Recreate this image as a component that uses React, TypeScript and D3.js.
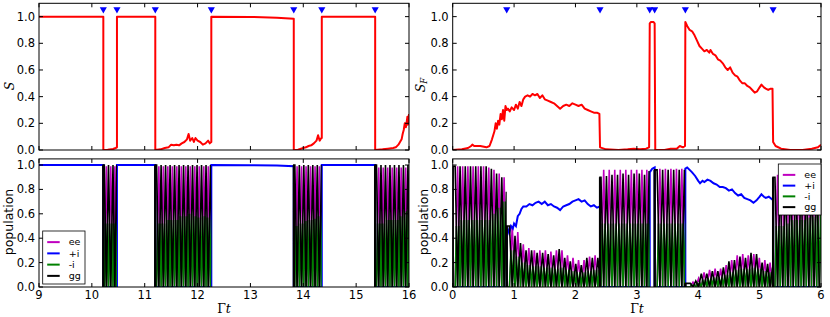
import * as d3 from 'd3';
import React from 'react';

type Pt = [number, number];

// jump times (blue markers)
const leftJumps = [10.217, 10.475, 11.2, 12.26, 13.82, 14.35, 15.36];
const rightJumps = [0.88, 2.4, 3.21, 3.29, 3.79, 5.22];

const leftXTicks = [9, 10, 11, 12, 13, 14, 15, 16];
const rightXTicks = [0, 1, 2, 3, 4, 5, 6];
const yTicks = [0, 0.2, 0.4, 0.6, 0.8, 1.0];
const legendLabels = ['ee', '+i', '-i', 'gg'];

const leftS: Pt[] = [
    [9, 1], [10.217, 1], [10.217, 0], [10.3, 0.002], [10.4, 0.008], [10.45, 0.015], [10.475, 0.02], [10.475, 1],
    [11.2, 1], [11.2, 0], [11.3, 0.005], [11.38, 0.015], [11.45, 0.02], [11.5, 0.04], [11.55, 0.035], [11.6, 0.04],
    [11.65, 0.035], [11.7, 0.05], [11.75, 0.06], [11.8, 0.08], [11.83, 0.12], [11.86, 0.07], [11.9, 0.09], [11.93, 0.06],
    [11.96, 0.09], [12.0, 0.07], [12.05, 0.06], [12.1, 0.04], [12.15, 0.05], [12.2, 0.07], [12.23, 0.05], [12.26, 0.06],
    [12.26, 1], [13.0, 0.998], [13.5, 0.992], [13.82, 0.985], [13.82, 0], [13.9, 0.002], [14.0, 0.015], [14.05, 0.02],
    [14.1, 0.03], [14.15, 0.035], [14.2, 0.05], [14.25, 0.07], [14.28, 0.11], [14.31, 0.07], [14.34, 0.09], [14.35, 0.09],
    [14.35, 1], [15.36, 1], [15.36, 0], [15.5, 0.005], [15.6, 0.01], [15.7, 0.015], [15.75, 0.02], [15.8, 0.04],
    [15.83, 0.06], [15.86, 0.08], [15.88, 0.12], [15.9, 0.15], [15.92, 0.2], [15.94, 0.17], [15.96, 0.22], [15.97, 0.25],
    [15.98, 0.19], [15.99, 0.22], [16, 0.27],
];

const rightSF: Pt[] = [
    [0, 0], [0.15, 0.005], [0.25, 0.015], [0.3, 0.03], [0.32, 0.04], [0.35, 0.03], [0.45, 0.03], [0.55, 0.02],
    [0.6, 0.03], [0.64, 0.08], [0.68, 0.14], [0.7, 0.2], [0.72, 0.16], [0.74, 0.22], [0.76, 0.19], [0.78, 0.27],
    [0.8, 0.23], [0.82, 0.3], [0.84, 0.22], [0.86, 0.33], [0.88, 0.3], [0.9, 0.31], [0.93, 0.29], [0.96, 0.32],
    [1.0, 0.3], [1.03, 0.34], [1.06, 0.31], [1.09, 0.36], [1.12, 0.33], [1.15, 0.38], [1.18, 0.4], [1.22, 0.41],
    [1.26, 0.4], [1.3, 0.42], [1.34, 0.41], [1.38, 0.42], [1.42, 0.39], [1.46, 0.41], [1.5, 0.38], [1.55, 0.37],
    [1.6, 0.36], [1.65, 0.35], [1.7, 0.33], [1.75, 0.31], [1.8, 0.33], [1.85, 0.34], [1.9, 0.33], [1.95, 0.35],
    [2.0, 0.34], [2.05, 0.33], [2.1, 0.34], [2.15, 0.31], [2.2, 0.3], [2.25, 0.29], [2.3, 0.28], [2.35, 0.28],
    [2.39, 0.27], [2.4, 0.02], [2.5, 0.005], [2.7, 0], [2.85, 0.005], [2.95, 0.01], [3.05, 0.005], [3.15, 0.01],
    [3.2, 0.02], [3.21, 0.95], [3.23, 0.96], [3.27, 0.96], [3.29, 0.95], [3.3, 0], [3.45, 0], [3.55, 0.01],
    [3.65, 0.01], [3.7, 0.03], [3.75, 0.02], [3.785, 0.03], [3.79, 0.96], [3.82, 0.93], [3.86, 0.9], [3.9, 0.89],
    [3.94, 0.86], [3.98, 0.82], [4.02, 0.78], [4.06, 0.76], [4.1, 0.74], [4.14, 0.75], [4.18, 0.73], [4.2, 0.75],
    [4.24, 0.72], [4.28, 0.71], [4.32, 0.68], [4.36, 0.67], [4.4, 0.65], [4.44, 0.62], [4.48, 0.6], [4.52, 0.62],
    [4.56, 0.58], [4.6, 0.56], [4.64, 0.55], [4.68, 0.52], [4.72, 0.5], [4.76, 0.5], [4.8, 0.48], [4.84, 0.47],
    [4.88, 0.45], [4.92, 0.43], [4.96, 0.44], [5.0, 0.47], [5.03, 0.49], [5.07, 0.47], [5.1, 0.46], [5.14, 0.45],
    [5.18, 0.46], [5.21, 0.46], [5.22, 0.06], [5.26, 0.03], [5.35, 0.01], [5.5, 0], [5.7, 0], [5.85, 0.01],
    [5.95, 0.02], [6, 0.04],
];

// +i population
const leftPlusI: Pt[] = [
    [9, 1], [10.217, 1], [10.217, 0], [10.475, 0], [10.475, 1], [11.2, 1], [11.2, 0], [12.26, 0], [12.26, 1],
    [13.0, 0.998], [13.5, 0.995], [13.82, 0.99], [13.82, 0], [14.35, 0], [14.35, 1], [15.36, 1], [15.36, 0], [16, 0],
];

const rightPlusI: Pt[] = [
    [0, 0], [0.88, 0], [0.88, 0.45], [0.9, 0.47], [0.92, 0.44], [0.95, 0.5], [0.98, 0.48], [1.0, 0.52], [1.03, 0.5],
    [1.06, 0.58], [1.09, 0.6], [1.12, 0.64], [1.15, 0.66], [1.2, 0.66], [1.25, 0.68], [1.3, 0.67], [1.35, 0.69],
    [1.4, 0.7], [1.45, 0.68], [1.5, 0.7], [1.55, 0.67], [1.6, 0.68], [1.65, 0.66], [1.7, 0.65], [1.75, 0.63],
    [1.8, 0.66], [1.85, 0.67], [1.9, 0.68], [1.95, 0.7], [2.0, 0.71], [2.05, 0.72], [2.1, 0.7], [2.15, 0.71],
    [2.2, 0.68], [2.25, 0.66], [2.3, 0.67], [2.35, 0.65], [2.4, 0.66], [2.4, 0], [3.21, 0], [3.21, 0.94],
    [3.25, 0.97], [3.29, 0.98], [3.29, 0], [3.79, 0], [3.79, 0.97], [3.82, 0.98], [3.86, 0.96], [3.9, 0.94],
    [3.95, 0.91], [4.0, 0.87], [4.03, 0.85], [4.07, 0.87], [4.1, 0.86], [4.15, 0.88], [4.2, 0.87], [4.25, 0.85],
    [4.3, 0.84], [4.35, 0.82], [4.4, 0.82], [4.45, 0.81], [4.5, 0.79], [4.55, 0.8], [4.6, 0.77], [4.65, 0.75],
    [4.7, 0.76], [4.75, 0.73], [4.8, 0.72], [4.85, 0.71], [4.9, 0.69], [4.95, 0.71], [5.0, 0.74], [5.03, 0.76],
    [5.07, 0.74], [5.1, 0.73], [5.15, 0.74], [5.2, 0.72], [5.22, 0.73], [5.22, 0], [6, 0],
];

// oscillating stretches: gg peak times, and peak heights of gg / ee / -i
interface OscWindow {
    from: number;
    to: number;
    peaks: number[];
    gg: number | number[];
    ee: number | number[];
    mi: number | number[];
}

const leftWindows: OscWindow[] = [
    { from: 10.217, to: 10.475, peaks: [10.235, 10.315, 10.4, 10.47], gg: 1, ee: 0.99, mi: 0.52 },
    {
        from: 11.2, to: 12.26,
        peaks: [11.225, 11.31, 11.395, 11.48, 11.565, 11.65, 11.735, 11.82, 11.905, 11.99, 12.075, 12.16, 12.245],
        gg: 1, ee: 0.99, mi: [0.52, 0.52, 0.55, 0.55, 0.55, 0.58, 0.58, 0.6, 0.58, 0.57, 0.58, 0.57, 0.55],
    },
    {
        from: 13.82, to: 14.35, peaks: [13.84, 13.925, 14.01, 14.095, 14.18, 14.265, 14.345],
        gg: 1, ee: 0.99, mi: [0.5, 0.52, 0.54, 0.55, 0.56, 0.58, 0.6],
    },
    {
        from: 15.36, to: 16, peaks: [15.385, 15.47, 15.555, 15.64, 15.725, 15.81, 15.895, 15.98],
        gg: 1, ee: 0.98, mi: [0.52, 0.52, 0.55, 0.55, 0.55, 0.58, 0.62, 0.68],
    },
];

const rightWindows: OscWindow[] = [
    {
        from: 0, to: 0.88, peaks: [0.04, 0.12, 0.205, 0.29, 0.375, 0.46, 0.545, 0.63, 0.715, 0.8, 0.875],
        gg: [0.99, 0.99, 0.99, 0.99, 0.99, 0.99, 0.99, 0.97, 0.93, 0.9, 0.78],
        ee: [0.99, 0.99, 0.99, 0.99, 0.99, 0.99, 0.98, 0.96, 0.93, 0.9, 0.6],
        mi: [0.5, 0.55, 0.55, 0.55, 0.55, 0.55, 0.55, 0.6, 0.65, 0.7, 0.5],
    },
    {
        from: 0.88, to: 2.4,
        peaks: [0.925, 1.015, 1.105, 1.195, 1.285, 1.375, 1.465, 1.555, 1.645, 1.735, 1.825, 1.915, 2.005, 2.095, 2.185, 2.275, 2.365],
        gg: [0.5, 0.42, 0.36, 0.3, 0.3, 0.28, 0.28, 0.27, 0.26, 0.31, 0.24, 0.21, 0.19, 0.18, 0.24, 0.24, 0.24],
        ee: [0.5, 0.45, 0.35, 0.32, 0.3, 0.3, 0.3, 0.29, 0.3, 0.3, 0.26, 0.24, 0.22, 0.22, 0.25, 0.26, 0.25],
        mi: [0.3, 0.25, 0.2, 0.18, 0.17, 0.17, 0.16, 0.16, 0.15, 0.16, 0.14, 0.13, 0.12, 0.12, 0.13, 0.14, 0.14],
    },
    {
        from: 2.4, to: 3.21, peaks: [2.415, 2.505, 2.595, 2.685, 2.775, 2.865, 2.955, 3.04, 3.125, 3.2],
        gg: [0.9, 0.91, 0.92, 0.92, 0.93, 0.92, 0.93, 0.93, 0.92, 0.95], ee: 0.96, mi: 0.52,
    },
    {
        from: 3.29, to: 3.79, peaks: [3.33, 3.42, 3.51, 3.6, 3.69, 3.775],
        gg: 0.96, ee: 0.97, mi: 0.52,
    },
    {
        from: 3.79, to: 5.22,
        peaks: [3.87, 3.96, 4.05, 4.14, 4.23, 4.32, 4.41, 4.5, 4.59, 4.68, 4.77, 4.86, 4.95, 5.04, 5.13, 5.21],
        gg: [0.03, 0.05, 0.11, 0.11, 0.13, 0.13, 0.16, 0.21, 0.22, 0.25, 0.24, 0.28, 0.27, 0.2, 0.19, 0.16],
        ee: [0.04, 0.07, 0.12, 0.14, 0.15, 0.15, 0.18, 0.22, 0.26, 0.27, 0.26, 0.27, 0.24, 0.22, 0.2, 0.15],
        mi: [0.02, 0.03, 0.06, 0.07, 0.08, 0.08, 0.1, 0.12, 0.14, 0.15, 0.15, 0.16, 0.15, 0.13, 0.12, 0.1],
    },
    {
        from: 5.22, to: 6, peaks: [5.25, 5.335, 5.42, 5.505, 5.59, 5.675, 5.76, 5.845, 5.93],
        gg: [0.9, 0.88, 0.9, 0.9, 0.91, 0.9, 0.9, 0.9, 0.9], ee: 0.92,
        mi: [0.5, 0.5, 0.52, 0.55, 0.55, 0.55, 0.57, 0.58, 0.6],
    },
];

const C_EE = '#bf00bf';
const C_PI = '#0000ff';
const C_MI = '#008000';
const C_GG = '#000000';
const C_S = '#ff0000';

const FONT = '"DejaVu Sans", sans-serif';
const MATH = '"DejaVu Serif", "Liberation Serif", serif';

type Which = 'gg' | 'ee' | 'mi';

const hOf = (v: number | number[], k: number) => (Array.isArray(v) ? v[k] : v);

function oscPoints(w: OscWindow, which: Which): Pt[] {
    const pts: Pt[] = [[w.from, 0]];
    // the gg curve jumps straight up at the start of a stretch
    if (which === 'gg') pts.push([w.from, hOf(w.gg, 0)]);
    w.peaks.forEach((p, k) => {
        const prev = k > 0 ? w.peaks[k - 1] : p - (w.peaks[1] - w.peaks[0]);
        const next = k < w.peaks.length - 1 ? w.peaks[k + 1] : p + (p - prev);
        const half = (next - p) / 2;
        if (which === 'gg') {
            pts.push([p, hOf(w.gg, k)], [p + half, 0]);
        } else if (which === 'ee') {
            pts.push([p, 0], [p + half, hOf(w.ee, k)], [next, 0]);
        } else {
            const m = hOf(w.mi, k);
            pts.push([p, 0], [p + half / 2, m], [p + half, 0], [p + 1.5 * half, m], [next, 0]);
        }
    });
    pts.push([w.to, 0]);
    return pts;
}

interface PanelProps {
    id: string;
    x: d3.ScaleLinear<number, number>;
    y: d3.ScaleLinear<number, number>;
    xTicks: number[];
    xLabels: boolean;
}

function Frame({ x, y, xTicks, xLabels }: PanelProps) {
    const [x0, x1] = x.range();
    const [y0, y1] = y.range();
    const tl = 4;
    return (
        <g>
            <rect x={x0} y={y1} width={x1 - x0} height={y0 - y1} fill="none" stroke="#000" strokeWidth={1} />
            {xTicks.map(t => (
                <g key={'x' + t}>
                    <line x1={x(t)} x2={x(t)} y1={y0} y2={y0 - tl} stroke="#000" />
                    <line x1={x(t)} x2={x(t)} y1={y1} y2={y1 + tl} stroke="#000" />
                    {xLabels && (
                        <text x={x(t)} y={y0 + 12} textAnchor="middle" fontSize={11.5} fontFamily={FONT}>{t}</text>
                    )}
                </g>
            ))}
            {yTicks.map(t => (
                <g key={'y' + t}>
                    <line x1={x0} x2={x0 + tl} y1={y(t)} y2={y(t)} stroke="#000" />
                    <line x1={x1} x2={x1 - tl} y1={y(t)} y2={y(t)} stroke="#000" />
                    <text x={x0 - 4} y={y(t) + 4} textAnchor="end" fontSize={11.5} fontFamily={FONT}>{t.toFixed(1)}</text>
                </g>
            ))}
        </g>
    );
}

function TopPanel(props: PanelProps & { data: Pt[]; jumps: number[] }) {
    const { id, x, y, data, jumps } = props;
    const [x0, x1] = x.range();
    const [y0, y1] = y.range();
    const line = d3.line<Pt>().x(d => x(d[0])).y(d => y(d[1]));
    const tri = d3.symbol().type(d3.symbolTriangle).size(22)()!;
    return (
        <g>
            <defs>
                <clipPath id={id}><rect x={x0} y={y1} width={x1 - x0} height={y0 - y1} /></clipPath>
            </defs>
            <g clipPath={`url(#${id})`}>
                <path d={line(data)!} fill="none" stroke={C_S} strokeWidth={2} strokeLinejoin="round" />
                {jumps.map(j => (
                    <path key={j} d={tri} transform={`translate(${x(j)},${y(1.055)}) rotate(180)`} fill={C_PI} />
                ))}
            </g>
            <Frame {...props} />
        </g>
    );
}

function BottomPanel(props: PanelProps & { plusI: Pt[]; windows: OscWindow[] }) {
    const { id, x, y, plusI, windows } = props;
    const [x0, x1] = x.range();
    const [y0, y1] = y.range();
    const line = d3.line<Pt>().x(d => x(d[0])).y(d => y(d[1]));
    const series = (which: Which, color: string) =>
        windows.map((w, i) => (
            <g key={which + i} clipPath={`url(#${id}-w${i})`}>
                <path d={line(oscPoints(w, which))!} fill="none" stroke={color} strokeWidth={1.6} />
                {which === 'gg' && (
                    <line x1={x(w.from)} x2={x(w.from)} y1={y(0)} y2={y(hOf(w.gg, 0))} stroke={color} strokeWidth={2.4} />
                )}
            </g>
        ));
    return (
        <g>
            <defs>
                <clipPath id={id}><rect x={x0} y={y1} width={x1 - x0} height={y0 - y1} /></clipPath>
                {windows.map((w, i) => (
                    <clipPath key={i} id={`${id}-w${i}`}>
                        <rect x={x(w.from) - 1.5} y={y1} width={x(w.to) - x(w.from) + 1.5} height={y0 - y1 + 2} />
                    </clipPath>
                ))}
            </defs>
            <g clipPath={`url(#${id})`}>
                {series('ee', C_EE)}
                <path d={line(plusI)!} fill="none" stroke={C_PI} strokeWidth={2} />
                {series('mi', C_MI)}
                {series('gg', C_GG)}
            </g>
            <Frame {...props} />
        </g>
    );
}

function Legend({ x, y, w, h }: { x: number; y: number; w: number; h: number }) {
    const colors = [C_EE, C_PI, C_MI, C_GG];
    const step = (h - 8) / 4;
    return (
        <g>
            <rect x={x} y={y} width={w} height={h} fill="#fff" stroke="#000" strokeWidth={0.8} />
            {legendLabels.map((l, i) => {
                const cy = y + 5.5 + step * (i + 0.5);
                return (
                    <g key={l}>
                        <line x1={x + 4.5} x2={x + 17} y1={cy} y2={cy} stroke={colors[i]} strokeWidth={2} />
                        <text x={x + 26} y={cy + 3.2} fontSize={9.5} fontFamily={FONT}>{l}</text>
                    </g>
                );
            })}
        </g>
    );
}

export default function App() {
    const leftX = d3.scaleLinear().domain([9, 16]).range([39, 409]);
    const rightX = d3.scaleLinear().domain([0, 6]).range([452.7, 821]);
    const topY = d3.scaleLinear().domain([0, 1.1]).range([150, 3.3]);
    const botY = d3.scaleLinear().domain([0, 1.05]).range([287, 158.9]);
    return (
        <svg width={830} height={317} style={{ position: 'absolute', left: 0, top: 0, background: '#fff' }}>
            <TopPanel id="tl" x={leftX} y={topY} xTicks={leftXTicks} xLabels={false} data={leftS} jumps={leftJumps} />
            <TopPanel id="tr" x={rightX} y={topY} xTicks={rightXTicks} xLabels={false} data={rightSF} jumps={rightJumps} />
            <BottomPanel id="bl" x={leftX} y={botY} xTicks={leftXTicks} xLabels={true} plusI={leftPlusI} windows={leftWindows} />
            <BottomPanel id="br" x={rightX} y={botY} xTicks={rightXTicks} xLabels={true} plusI={rightPlusI} windows={rightWindows} />
            <Legend x={42.7} y={231} w={42.3} h={53} />
            <Legend x={778.3} y={164} w={42.7} h={51} />

            <text transform="translate(13.5,86) rotate(-90)" textAnchor="middle" fontSize={12.5} fontFamily={MATH} fontStyle="italic">S</text>
            <text transform="translate(424.5,85) rotate(-90)" textAnchor="middle" fontSize={12.5} fontFamily={MATH} fontStyle="italic">
                S<tspan fontSize={8.5} dy={2.5}>F</tspan>
            </text>
            <text transform="translate(12.5,222) rotate(-90)" textAnchor="middle" fontSize={12.5} fontFamily={FONT}>population</text>
            <text transform="translate(427.5,222) rotate(-90)" textAnchor="middle" fontSize={12.5} fontFamily={FONT}>population</text>
            <text x={224} y={313} textAnchor="middle" fontSize={12.5} fontFamily={MATH}>Γ<tspan fontStyle="italic">t</tspan></text>
            <text x={637} y={313} textAnchor="middle" fontSize={12.5} fontFamily={MATH}>Γ<tspan fontStyle="italic">t</tspan></text>
        </svg>
    );
}
